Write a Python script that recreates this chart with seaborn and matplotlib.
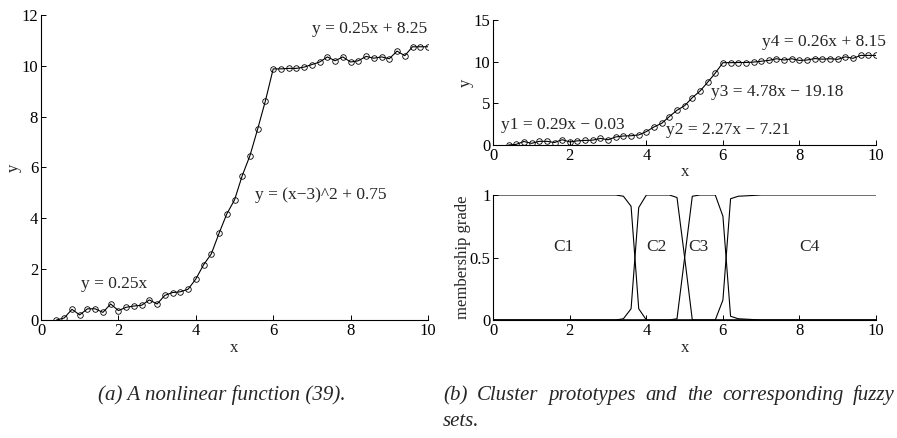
import numpy as np
import pandas as pd
import matplotlib
matplotlib.use('Agg')
import matplotlib.pyplot as plt
import seaborn as sns

# sampled data of the nonlinear function
x_data = [0.4, 0.6, 0.8, 1.0, 1.2, 1.4, 1.6, 1.8, 2.0, 2.2, 2.4, 2.6, 2.8,
          3.0, 3.2, 3.4, 3.6, 3.8, 4.0, 4.2, 4.4, 4.6, 4.8, 5.0, 5.2, 5.4,
          5.6, 5.8, 6.0, 6.2, 6.4, 6.6, 6.8, 7.0, 7.2, 7.4, 7.6, 7.8, 8.0,
          8.2, 8.4, 8.6, 8.8, 9.0, 9.2, 9.4, 9.6, 9.8, 10.0]
y_data = [0.0, 0.08, 0.42, 0.2, 0.44, 0.44, 0.3, 0.63, 0.37, 0.5, 0.55,
          0.58, 0.79, 0.63, 0.97, 1.08, 1.11, 1.21, 1.61, 2.17, 2.6, 3.41,
          4.17, 4.72, 5.68, 6.47, 7.52, 8.63, 9.88, 9.88, 9.9, 9.9, 9.95,
          10.05, 10.15, 10.35, 10.2, 10.35, 10.15, 10.2, 10.37, 10.3, 10.35,
          10.28, 10.58, 10.4, 10.75, 10.75, 10.75]

# membership functions (breakpoints)
c1_x = [0, 3.2, 3.4, 3.6, 3.8, 4.0, 10]
c1_y = [1.0, 1.0, 0.99, 0.91, 0.09, 0.0, 0.0]
c2_x = [0, 3.2, 3.4, 3.6, 3.8, 4.0, 4.6, 4.8, 5.0, 5.2, 10]
c2_y = [0.0, 0.0, 0.01, 0.09, 0.9, 1.0, 1.0, 0.98, 0.5, 0.0, 0.0]
c3_x = [0, 4.6, 4.8, 5.0, 5.2, 5.4, 5.8, 6.0, 6.2, 6.4, 7.0, 10]
c3_y = [0.0, 0.0, 0.01, 0.5, 0.99, 1.0, 1.0, 0.83, 0.03, 0.01, 0.0, 0.0]
c4_x = [0, 5.6, 5.8, 6.0, 6.2, 6.4, 7.0, 10]
c4_y = [0.0, 0.0, 0.0, 0.16, 0.97, 0.99, 1.0, 1.0]

cluster_names = ['C1', 'C2', 'C3', 'C4']
cluster_label_x = [1.83, 4.27, 5.36, 8.26]

eq_left = ['y = 0.25x', 'y = (x\u22123)^2 + 0.75', 'y = 0.25x + 8.25']
eq_right = ['y1 = 0.29x \u2212 0.03', 'y2 = 2.27x \u2212 7.21',
            'y3 = 4.78x \u2212 19.18', 'y4 = 0.26x + 8.15']

caption_a = '(a) A nonlinear function (39).'
caption_b1 = '(b) Cluster prototypes and the corresponding fuzzy'
caption_b2 = 'sets.'

sns.set_theme(style='ticks')
plt.rcParams['font.family'] = ['Liberation Serif', 'DejaVu Serif']
FS = 12
FS_EQ = 12.5
FS_CAP = 15


def style_axes(ax):
    sns.despine(ax=ax)
    for s in ['left', 'bottom']:
        ax.spines[s].set_linewidth(0.8)
        ax.spines[s].set_color('black')
    ax.tick_params(direction='in', length=3.5, width=0.7, labelsize=FS,
                   colors='black', pad=2)
    ax.set_facecolor('white')


def justified_line(fig, text, x0, x1, y, W, H, **kw):
    # spread the words of one line between x0 and x1 (pixels)
    renderer = fig.canvas.get_renderer()
    words = text.split()
    items = [fig.text(0, 0, w, **kw) for w in words]
    widths = [t.get_window_extent(renderer).width for t in items]
    gap = (x1 - x0 - sum(widths)) / (len(words) - 1)
    pos = x0
    for t, w in zip(items, widths):
        t.set_position((pos / W, 1 - y / H))
        pos += w + gap


def main():
    df = pd.DataFrame({'x': x_data, 'y': y_data})
    frames = []
    for name, xs, ys in zip(cluster_names, [c1_x, c2_x, c3_x, c4_x],
                            [c1_y, c2_y, c3_y, c4_y]):
        frames.append(pd.DataFrame({'x': xs, 'mu': ys, 'cluster': name}))
    mem = pd.concat(frames, ignore_index=True)

    fig = plt.figure(figsize=(8.97, 4.38), dpi=100)
    W, H = 897, 438

    def add_ax(x0, x1, ytop, ybot):
        return fig.add_axes([x0 / W, 1 - ybot / H, (x1 - x0) / W,
                             (ybot - ytop) / H])

    line_kw = dict(color='black', linewidth=0.8, marker='o', markersize=4,
                   markerfacecolor='none', markeredgecolor='black',
                   markeredgewidth=0.6)

    # (a) nonlinear function
    ax1 = add_ax(41, 428, 15, 320)
    sns.lineplot(data=df, x='x', y='y', ax=ax1, **line_kw)
    ax1.set_xlim(0, 10)
    ax1.set_ylim(0, 12)
    ax1.set_xticks([0, 2, 4, 6, 8, 10])
    ax1.set_yticks([0, 2, 4, 6, 8, 10, 12])
    ax1.set_xlabel('x', fontsize=FS, labelpad=1)
    ax1.set_ylabel('y', fontsize=FS, labelpad=0)
    ax1.text(1.03, 1.42, eq_left[0], fontsize=FS_EQ, va='center')
    ax1.text(5.53, 4.92, eq_left[1], fontsize=FS_EQ, va='center')
    ax1.text(7.0, 11.45, eq_left[2], fontsize=FS_EQ, va='center')
    style_axes(ax1)

    # (b) top: cluster prototypes
    ax2 = add_ax(493.3, 876, 20, 145)
    sns.lineplot(data=df, x='x', y='y', ax=ax2, **line_kw)
    ax2.set_xlim(0, 10)
    ax2.set_ylim(0, 15)
    ax2.set_xticks([0, 2, 4, 6, 8, 10])
    ax2.set_yticks([0, 5, 10, 15])
    ax2.set_xlabel('x', fontsize=FS, labelpad=0)
    ax2.set_ylabel('y', fontsize=FS, labelpad=0)
    ax2.text(0.19, 2.4, eq_right[0], fontsize=FS_EQ, va='center')
    ax2.text(4.51, 1.8, eq_right[1], fontsize=FS_EQ, va='center')
    ax2.text(5.69, 6.4, eq_right[2], fontsize=FS_EQ, va='center')
    ax2.text(7.01, 12.4, eq_right[3], fontsize=FS_EQ, va='center')
    style_axes(ax2)

    # (b) bottom: membership functions
    ax3 = add_ax(493.3, 876, 195, 320)
    sns.lineplot(data=mem, x='x', y='mu', hue='cluster',
                 palette=['black'] * 4, linewidth=0.8, legend=False, ax=ax3)
    ax3.set_xlim(0, 10)
    ax3.set_ylim(0, 1)
    ax3.set_xticks([0, 2, 4, 6, 8, 10])
    ax3.set_yticks([0, 0.5, 1])
    ax3.set_yticklabels(['0', '0.5', '1'])
    ax3.set_xlabel('x', fontsize=FS, labelpad=1)
    ax3.set_ylabel('membership grade', fontsize=FS, labelpad=-1)
    for name, cx in zip(cluster_names, cluster_label_x):
        ax3.text(cx, 0.586, name, fontsize=FS_EQ, ha='center', va='center')
    style_axes(ax3)

    # captions
    cap_kw = dict(fontsize=FS_CAP, style='italic', va='baseline')
    fig.text(222 / W, 1 - 400 / H, caption_a, ha='center', **cap_kw)
    justified_line(fig, caption_b1, 443, 895, 400, W, H, ha='left', **cap_kw)
    fig.text(443 / W, 1 - 426 / H, caption_b2, ha='left', **cap_kw)

    fig.savefig('out.png', dpi=100, facecolor='white')


if __name__ == '__main__':
    main()
